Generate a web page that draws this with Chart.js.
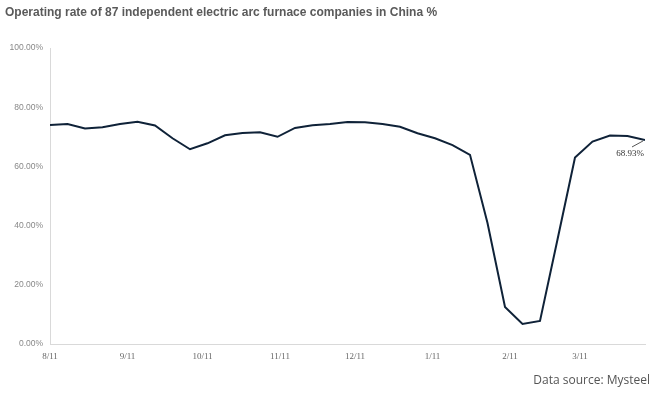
<!DOCTYPE html>
<html>
<head>
<meta charset="utf-8">
<script src="https://cdn.jsdelivr.net/npm/chart.js@4.4.1/dist/chart.umd.min.js"></script>
<style>
  html,body{margin:0;padding:0;background:#fff;}
  .wrap{position:relative;width:660px;height:393px;}
  .title{position:absolute;left:5px;top:5px;font:bold 12px "Liberation Sans",Arial,sans-serif;color:#5a5a5a;white-space:nowrap;}
  .source{position:absolute;right:10px;top:371px;font:12px "Open Sans",sans-serif;color:#555;white-space:nowrap;}
  canvas{position:absolute;left:0;top:0;}
</style>
</head>
<body>
<div class="wrap">
  <canvas id="eafChart" width="660" height="393"></canvas>
  <div class="title">Operating rate of 87 independent electric arc furnace companies in China %</div>
  <div class="source">Data source: Mysteel</div>
</div>
<script>
// days since 8/11, one reading per week
const weekDays = [0,7,14,21,28,35,42,49,56,63,70,77,84,91,98,105,112,119,126,133,140,147,154,161,168,175,182,189,196,203,210,217,224,231,238];
const rates = [74.0,74.3,72.8,73.2,74.3,75.1,73.8,69.5,65.8,67.8,70.5,71.3,71.5,70.0,73.0,73.9,74.3,75.0,74.9,74.3,73.4,71.2,69.5,67.2,63.9,40.9,12.5,6.8,7.8,35.3,63.0,68.4,70.4,70.3,68.93];
const tickDays = [0,31,61,92,122,153,184,212];
const tickLabels = ['8/11','9/11','10/11','11/11','12/11','1/11','2/11','3/11'];
const yTicks = [0,20,40,60,80,100];
const lastLabel = '68.93%';

const lastPointNote = {
  id:'lastPointNote',
  afterDatasetsDraw(chart){
    const pts = chart.getDatasetMeta(0).data;
    const p = pts[pts.length-1];
    const c = chart.ctx;
    c.save();
    c.strokeStyle = '#555';
    c.lineWidth = 1;
    c.beginPath();
    c.moveTo(p.x-2, p.y+1);
    c.lineTo(p.x-13, p.y+7);
    c.stroke();
    c.fillStyle = '#333';
    c.font = '9px "Liberation Serif",serif';
    c.textAlign = 'center';
    c.textBaseline = 'middle';
    c.fillText(lastLabel, p.x-15, p.y+14);
    c.restore();
  }
};

new Chart(document.getElementById('eafChart').getContext('2d'), {
  type:'line',
  data:{
    datasets:[{
      data: weekDays.map((d,i)=>({x:d, y:rates[i]})),
      borderColor:'#0f2238',
      borderWidth:2,
      pointRadius:0,
      tension:0,
      fill:false
    }]
  },
  options:{
    responsive:false,
    animation:false,
    layout:{padding:{top:48,right:15,left:0,bottom:0}},
    plugins:{legend:{display:false},tooltip:{enabled:false}},
    scales:{
      x:{
        type:'linear',
        min:0, max:238,
        grid:{display:false, drawTicks:true, tickLength:3, color:'#ddd'},
        border:{display:true,color:'#d9d9d9'},
        afterBuildTicks:(s)=>{ s.ticks = tickDays.map(v=>({value:v})); },
        afterFit:(s)=>{ s.height = 49; },
        ticks:{
          autoSkip:false, maxRotation:0, padding:4,
          color:'#666',
          font:{family:'"Liberation Serif",serif',size:9},
          callback:(v)=>tickLabels[tickDays.indexOf(v)]
        }
      },
      y:{
        min:0, max:100,
        grid:{display:false, tickLength:3},
        border:{display:true,color:'#d9d9d9'},
        afterBuildTicks:(s)=>{ s.ticks = yTicks.map(v=>({value:v})); },
        afterFit:(s)=>{ s.width = 50; },
        ticks:{
          padding:4,
          color:'#888',
          font:{family:'"Liberation Sans",sans-serif',size:8.5},
          callback:(v)=>v.toFixed(2)+'%'
        }
      }
    }
  },
  plugins:[lastPointNote]
});
</script>
</body>
</html>
